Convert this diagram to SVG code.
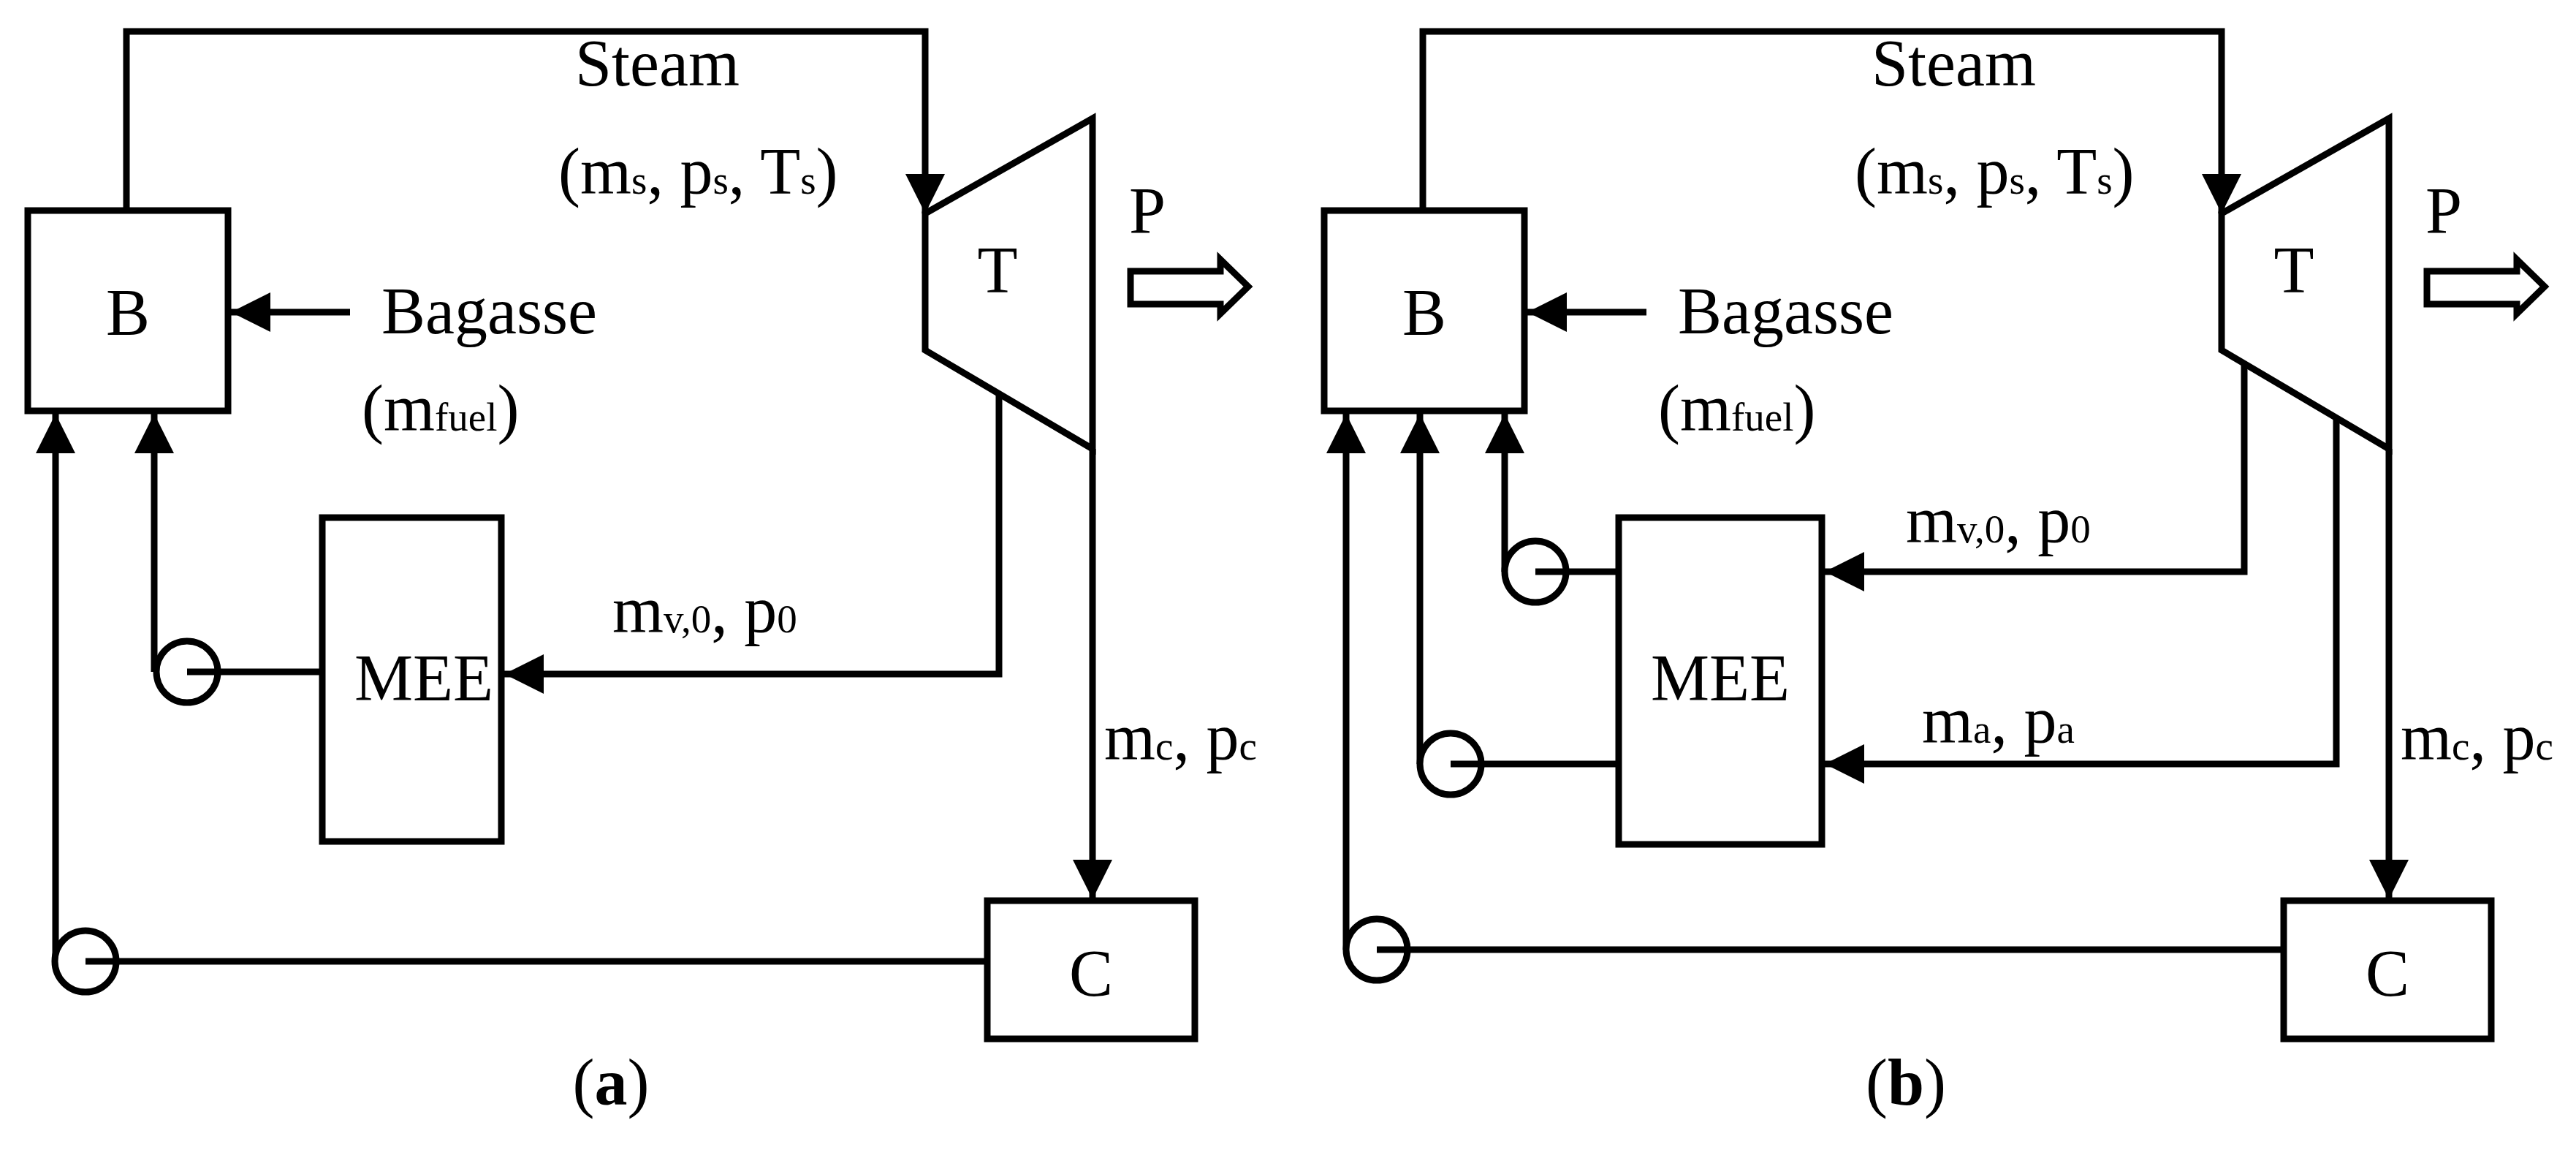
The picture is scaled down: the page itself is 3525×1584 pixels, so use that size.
<svg xmlns="http://www.w3.org/2000/svg" width="3525" height="1584" viewBox="0 0 3525 1584">
<defs>
<marker id="ah" viewBox="0 0 10 10" refX="10" refY="5" markerWidth="6.5" markerHeight="6" markerUnits="strokeWidth" orient="auto"><path d="M0,0L10,5L0,10z" fill="#000"/></marker>
<style>
.n{fill:#fff;stroke:#000;stroke-width:9}
.l{fill:none;stroke:#000;stroke-width:9}
.a{fill:none;stroke:#000;stroke-width:9;marker-end:url(#ah)}
text{font-family:"Liberation Serif","Times New Roman",serif;font-size:90px;fill:#000}
.c{text-anchor:middle}
.s{font-size:55px}
</style>
</defs>
<rect width="3525" height="1584" fill="#fff"/>
<g id="connectors">
<path class="a" d="M173,288V43H1266V292"/>
<path class="a" d="M479,427H316"/>
<path class="a" d="M76,1315V566"/>
<path class="a" d="M211,919V566"/>
<path class="l" d="M256,919H441"/>
<path class="l" d="M117,1315H1351"/>
<path class="a" d="M1367,540V922H690"/>
<path class="a" d="M1495,614V1230"/>
<path class="a" d="M1947,288V43H3040V292"/>
<path class="a" d="M2253,427H2090"/>
<path class="a" d="M1842,1299V566"/>
<path class="a" d="M1943,1045V566"/>
<path class="a" d="M2059,782V566"/>
<path class="l" d="M2101,782H2215"/>
<path class="l" d="M1985,1045H2215"/>
<path class="l" d="M1884,1299H3125"/>
<path class="a" d="M3071,499V782H2497"/>
<path class="a" d="M3197,566V1045H2497"/>
<path class="a" d="M3269,614V1230"/>
</g>
<g id="a-B"><rect class="n" x="38" y="288" width="274" height="274"/><text class="c" x="175" y="458">B</text></g>
<g id="a-T"><path class="n" d="M1266,292L1495,162V614L1266,479z"/><text class="c" x="1365" y="400">T</text></g>
<g id="a-MEE"><rect class="n" x="441" y="708" width="245" height="443"/><text class="c" x="580" y="958">MEE</text></g>
<g id="a-C"><rect class="n" x="1351" y="1232" width="284" height="189"/><text class="c" x="1493" y="1362">C</text></g>
<g id="a-pumps"><circle class="n" cx="256" cy="919" r="42"/><circle class="n" cx="117" cy="1315" r="42"/><path class="l" d="M256,919H298M117,1315H159"/></g>
<g id="a-P"><path class="n" d="M1547,371H1670V355L1708,392L1670,429V416H1547z" stroke-width="5"/><text x="1545" y="319">P</text></g>
<g id="a-labels">
<text x="787" y="117">Steam</text>
<text x="764" y="265">(m<tspan class="s">s</tspan>, p<tspan class="s">s</tspan>, T<tspan class="s">s</tspan>)</text>
<text x="522" y="456">Bagasse</text>
<text x="495" y="589">(m<tspan class="s">fuel</tspan>)</text>
<text x="838" y="865">m<tspan class="s">v,0</tspan>, p<tspan class="s">0</tspan></text>
<text x="1511" y="1039">m<tspan class="s">c</tspan>, p<tspan class="s">c</tspan></text>
<text class="c" x="836" y="1511">(<tspan font-weight="bold">a</tspan>)</text>
</g>
<g id="b-B"><rect class="n" x="1812" y="288" width="274" height="274"/><text class="c" x="1949" y="458">B</text></g>
<g id="b-T"><path class="n" d="M3040,292L3269,162V614L3040,479z"/><text class="c" x="3139" y="400">T</text></g>
<g id="b-MEE"><rect class="n" x="2215" y="708" width="278" height="447"/><text class="c" x="2354" y="958">MEE</text></g>
<g id="b-C"><rect class="n" x="3125" y="1232" width="284" height="189"/><text class="c" x="3267" y="1362">C</text></g>
<g id="b-pumps"><circle class="n" cx="2101" cy="782" r="42"/><circle class="n" cx="1985" cy="1045" r="42"/><circle class="n" cx="1884" cy="1299" r="42"/><path class="l" d="M2101,782H2143M1985,1045H2027M1884,1299H1926"/></g>
<g id="b-P"><path class="n" d="M3321,371H3444V355L3482,392L3444,429V416H3321z" stroke-width="5"/><text x="3319" y="319">P</text></g>
<g id="b-labels">
<text x="2561" y="117">Steam</text>
<text x="2538" y="265">(m<tspan class="s">s</tspan>, p<tspan class="s">s</tspan>, T<tspan class="s">s</tspan>)</text>
<text x="2296" y="456">Bagasse</text>
<text x="2269" y="589">(m<tspan class="s">fuel</tspan>)</text>
<text x="2608" y="742">m<tspan class="s">v,0</tspan>, p<tspan class="s">0</tspan></text>
<text x="2630" y="1016">m<tspan class="s">a</tspan>, p<tspan class="s">a</tspan></text>
<text x="3285" y="1039">m<tspan class="s">c</tspan>, p<tspan class="s">c</tspan></text>
<text class="c" x="2608" y="1511">(<tspan font-weight="bold">b</tspan>)</text>
</g>
</svg>
